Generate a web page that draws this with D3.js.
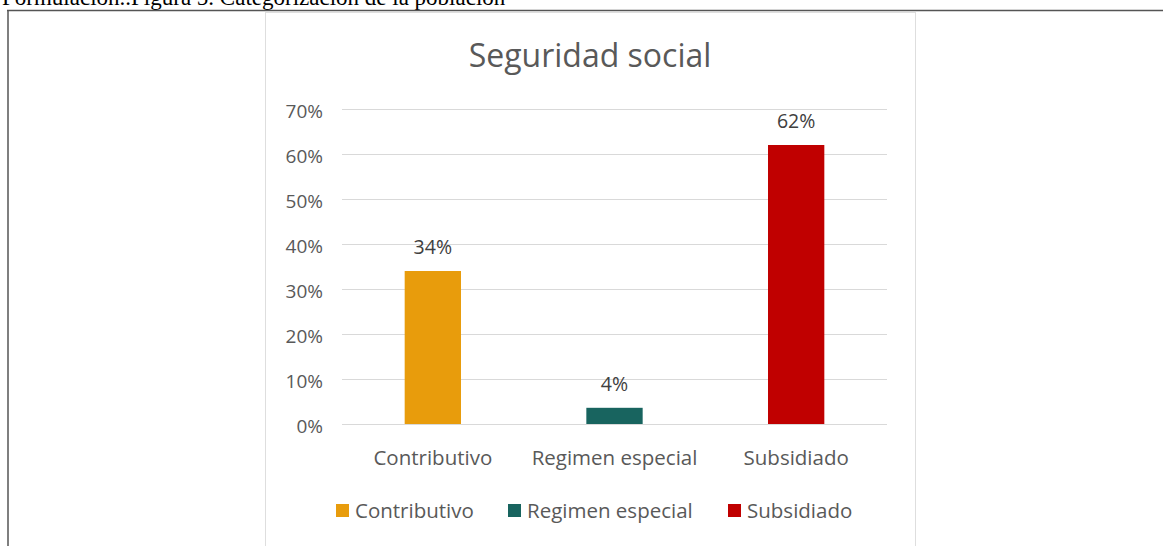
<!DOCTYPE html>
<html>
<head>
<meta charset="utf-8">
<script src="https://cdn.jsdelivr.net/npm/d3@7"></script>
<style>
  html, body { margin: 0; padding: 0; background: #fff; }
  svg { display: block; }
</style>
</head>
<body>
<svg id="chart" width="1163" height="546"></svg>
<script>
// ---- data ----
const categories = ["Contributivo", "Regimen especial", "Subsidiado"];
const values = [0.34, 0.036, 0.62];
const labels = ["34%", "4%", "62%"];
const colors = ["#E89C0C", "#18645F", "#C00000"];
const yTicks = [0, 0.1, 0.2, 0.3, 0.4, 0.5, 0.6, 0.7];
const title = "Seguridad social";
const caption = "Formulación..Figura 5. Categorización de la población";

const svg = d3.select("#chart");
const font = "'Open Sans', 'Noto Sans', sans-serif";

// page caption (cut off at top, as in the source page)
svg.append("text")
  .attr("x", 2).attr("y", 5)
  .attr("font-family", "'Liberation Serif', 'DejaVu Serif', serif")
  .attr("font-size", 23)
  .attr("fill", "#000")
  .text(caption);

// outer table frame
svg.append("line").attr("x1", 7).attr("x2", 1163).attr("y1", 10.5).attr("y2", 10.5)
  .attr("stroke", "#555").attr("stroke-width", 1.5);
svg.append("line").attr("x1", 8).attr("x2", 8).attr("y1", 10).attr("y2", 546)
  .attr("stroke", "#555").attr("stroke-width", 1.5);

// chart box
svg.append("rect").attr("x", 265.5).attr("y", 12.5).attr("width", 650).attr("height", 540)
  .attr("fill", "#fff").attr("stroke", "#dedede").attr("stroke-width", 1);

// scales
const x = d3.scaleBand().domain(categories).range([342, 887]).padding(0);
const y = d3.scaleLinear().domain([0, 0.7]).range([424, 109]);
const barW = x.bandwidth() * 0.31;

// gridlines + y tick labels via axis
const yAxis = d3.axisLeft(y).tickValues(yTicks).tickFormat(d3.format(".0%"))
  .tickSize(-(887 - 342)).tickPadding(19);
const gy = svg.append("g").attr("transform", "translate(342,0)").call(yAxis);
gy.select(".domain").remove();
gy.selectAll(".tick line").attr("stroke", "#d9d9d9").attr("stroke-width", 1);
gy.selectAll(".tick text").attr("font-family", font).attr("font-size", 19)
  .attr("fill", "#595959").attr("dy", "0.45em");

// bars
svg.append("g").selectAll("rect").data(values).join("rect")
  .attr("x", (d, i) => x(categories[i]) + x.bandwidth() / 2 - barW / 2)
  .attr("width", barW)
  .attr("y", d => y(d))
  .attr("height", d => y(0) - y(d))
  .attr("fill", (d, i) => colors[i]);

// data labels
svg.append("g").selectAll("text").data(values).join("text")
  .attr("x", (d, i) => x(categories[i]) + x.bandwidth() / 2)
  .attr("y", d => y(d) - 17)
  .attr("text-anchor", "middle")
  .attr("font-family", font).attr("font-size", 19.5).attr("fill", "#404040")
  .text((d, i) => labels[i]);

// x axis labels
const xAxis = d3.axisBottom(x).tickSize(0).tickPadding(26.5);
const gx = svg.append("g").attr("transform", "translate(0,424)").call(xAxis);
gx.select(".domain").remove();
gx.selectAll(".tick text").attr("font-family", font).attr("font-size", 20.5)
  .attr("fill", "#595959");

// title
svg.append("text").attr("x", 590).attr("y", 67).attr("text-anchor", "middle")
  .attr("font-family", font).attr("font-size", 32).attr("fill", "#595959")
  .text(title);

// legend
const legendX = [336, 508, 728];
const lg = svg.append("g").selectAll("g").data(categories).join("g")
  .attr("transform", (d, i) => `translate(${legendX[i]},510.5)`);
lg.append("rect").attr("x", 0).attr("y", -6.5).attr("width", 13).attr("height", 13)
  .attr("fill", (d, i) => colors[i]);
lg.append("text").attr("x", 19).attr("y", 7).attr("font-family", font)
  .attr("font-size", 20.5).attr("fill", "#595959").text(d => d);
</script>
</body>
</html>
